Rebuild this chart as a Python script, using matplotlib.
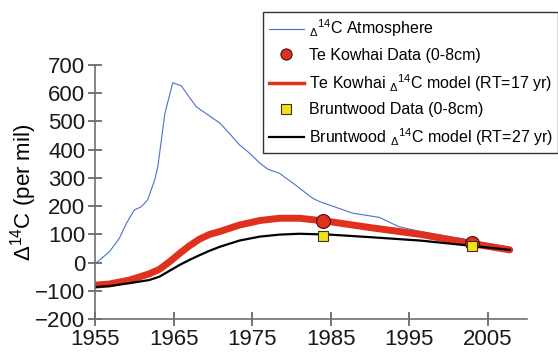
import matplotlib
matplotlib.use("Agg")
import matplotlib.pyplot as plt
from matplotlib.lines import Line2D

plt.rcParams['font.family'] = ['Liberation Sans', 'DejaVu Sans']
plt.rcParams['mathtext.fontset'] = 'custom'
plt.rcParams['mathtext.rm'] = 'Liberation Sans'
plt.rcParams['mathtext.it'] = 'Liberation Sans'

# Atmospheric Δ14C
atm_year = [1955, 1955.6, 1956.85, 1958.1, 1959.0, 1960.0, 1960.9, 1961.7, 1962.6, 1963.0,
            1963.9, 1964.9, 1966.0, 1966.8, 1967.9, 1969.4, 1970.9, 1972.1, 1973.4, 1974.7,
            1976.0, 1977.0, 1978.5, 1980.5, 1982.7, 1983.6, 1987.8, 1991.2, 1993.7, 1996.4,
            2001.5, 2007.8]
atm_val = [-5, 9, 39, 86, 139, 186, 198, 222, 293, 340,
           529, 637, 626, 594, 552, 523, 494, 458, 417, 387,
           352, 331, 316, 275, 228, 216, 175, 160, 127, 110,
           86, 54]

# Te Kowhai model (RT=17 yr)
tk_year = [1955, 1956.85, 1959.4, 1961.9, 1963.2, 1964.5, 1965.8, 1967.0, 1968.3, 1969.6,
           1970.9, 1973.4, 1976.0, 1978.5, 1981.0, 1983.0, 1984.9, 1990.0, 1996.4, 2002.7,
           2007.8]
tk_val = [-80, -76, -62, -40, -24, 3, 33, 59, 83, 100,
          110, 133, 149, 157, 157, 151, 145, 124, 100, 68,
          45]

# Bruntwood model (RT=27 yr)
bw_year = [1955, 1956.85, 1959.4, 1961.9, 1963.2, 1964.5, 1965.8, 1967.0, 1968.3, 1969.6,
           1970.9, 1973.4, 1976.0, 1978.5, 1981.0, 1984.9, 1990.0, 1996.4, 2002.7, 2007.8]
bw_val = [-87, -83, -73, -62, -50, -29, -8, 9, 26, 42,
          56, 78, 92, 99, 102, 99, 90, 78, 60, 45]

# Data points
tk_data_year = [1984, 2003]
tk_data_val = [149, 68]
bw_data_year = [1984, 2003]
bw_data_val = [95, 59]

xticks = [1955, 1965, 1975, 1985, 1995, 2005]
yticks = [-200, -100, 0, 100, 200, 300, 400, 500, 600, 700]

RED = '#e0301e'
BLUE = '#4a72c8'
YELLOW = '#f0e020'

fig = plt.figure(figsize=(5.58, 3.55), dpi=100)
ax = fig.add_axes([95/558, 1-319/355, (527-95)/558, (319-65)/355])

ax.plot(atm_year, atm_val, color=BLUE, lw=0.8)
ax.plot(tk_year, tk_val, color=RED, lw=5, solid_capstyle='round', solid_joinstyle='round')
ax.plot(bw_year, bw_val, color='black', lw=1.6, solid_joinstyle='round')
ax.plot(tk_data_year, tk_data_val, 'o', ms=10, mfc=RED, mec='#401010', mew=0.8, ls='none')
ax.plot(bw_data_year, bw_data_val, 's', ms=7.5, mfc=YELLOW, mec='#403010', mew=0.8, ls='none')

ax.set_xlim(1955, 2010)
ax.set_ylim(-200, 700)
ax.set_xticks(xticks)
ax.set_yticks(yticks)
for s in ['top', 'right']:
    ax.spines[s].set_visible(False)
for s in ['left', 'bottom']:
    ax.spines[s].set_color('#707070')
    ax.spines[s].set_linewidth(1.2)
ax.tick_params(direction='inout', length=10, width=1.1, color='#505050',
               labelsize=16, labelcolor='#1a1a1a', pad=2)
ax.set_ylabel(r'$\Delta^{14}$C (per mil)', fontsize=16, labelpad=-3)

handles = [Line2D([], [], color=BLUE, lw=0.8),
           Line2D([], [], ls='none', marker='o', ms=8, mfc=RED, mec='#401010', mew=0.8),
           Line2D([], [], color=RED, lw=2.5),
           Line2D([], [], ls='none', marker='s', ms=7, mfc=YELLOW, mec='#403010', mew=0.8),
           Line2D([], [], color='black', lw=1.6)]
labels = [r'$_\Delta{}^{14}$C Atmosphere', 'Te Kowhai Data (0-8cm)',
          r'Te Kowhai $_\Delta{}^{14}$C model (RT=17 yr)', 'Bruntwood Data (0-8cm)',
          r'Bruntwood $_\Delta{}^{14}$C model (RT=27 yr)']
leg = fig.legend(handles, labels, loc='upper left', bbox_to_anchor=(263/558, 1-12/355),
                 fontsize=11.5, frameon=True, fancybox=False, edgecolor='black',
                 handlelength=2.2, handletextpad=0.3, borderpad=0.35, labelspacing=0.55,
                 borderaxespad=0)
leg.get_frame().set_linewidth(1.0)

fig.savefig('out.png', dpi=100)
